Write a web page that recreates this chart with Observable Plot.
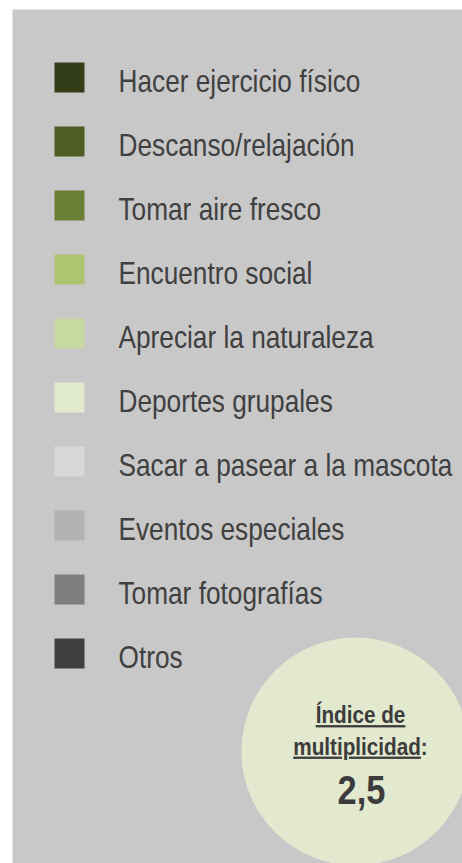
<!DOCTYPE html>
<html>
<head>
<meta charset="utf-8">
<script src="https://cdn.jsdelivr.net/npm/d3@7"></script>
<script src="https://cdn.jsdelivr.net/npm/@observablehq/plot@0.6"></script>
<style>
  html, body { margin: 0; padding: 0; background: #ffffff; overflow: hidden; }
</style>
</head>
<body>
<div id="chart"></div>
<script>
// Legend categories (in order) and their colours
const categories = [
  "Hacer ejercicio físico",
  "Descanso/relajación",
  "Tomar aire fresco",
  "Encuentro social",
  "Apreciar la naturaleza",
  "Deportes grupales",
  "Sacar a pasear a la mascota",
  "Eventos especiales",
  "Tomar fotografías",
  "Otros"
];
const colors = [
  "#333d17", "#4e5e23", "#6a7f32", "#afc46f", "#c8d8a1",
  "#e1eacf", "#d8d8d8", "#b2b2b2", "#7e7e7e", "#3f3f3f"
];
// Index callout
const indexTitle = ["Índice de"];
const indexSubtitle = ["multiplicidad:"];
const indexValue = ["2,5"];

const baseFont = "'Liberation Sans', Arial, sans-serif";

const chart = Plot.plot({
  width: 462,
  height: 863,
  marginLeft: 12,
  marginTop: 9,
  marginRight: 0,
  marginBottom: 0,
  y: { type: "point", domain: categories, range: [74, 656], padding: 0, axis: null },
  color: { domain: categories, range: colors },
  style: { fontFamily: baseFont, background: "transparent" },
  marks: [
    Plot.frame({ fill: "#c8c8c8", stroke: "none" }),
    Plot.dot(categories, {
      y: d => d, fill: d => d, symbol: "square",
      r: 30 / Math.sqrt(Math.PI), frameAnchor: "left", dx: 57
    }),
    Plot.text(categories, {
      y: d => d, text: d => d, frameAnchor: "left", textAnchor: "start",
      lineAnchor: "bottom", dx: 106, dy: 14, fontSize: 30.5, fill: "#404040"
    }),
    Plot.dot(indexValue, {
      frameAnchor: "bottom-right", dx: -107, dy: -112, r: 114, fill: "#e3e9cf"
    }),
    Plot.text(indexTitle, {
      text: d => d, frameAnchor: "bottom-right", textAnchor: "middle", lineAnchor: "bottom",
      dx: -102, dy: -140.5, fontSize: 23, fontWeight: "bold", fill: "#3c3c3c"
    }),
    Plot.text(indexSubtitle, {
      text: d => d, frameAnchor: "bottom-right", textAnchor: "middle", lineAnchor: "bottom",
      dx: -102, dy: -109, fontSize: 23, fontWeight: "bold", fill: "#3c3c3c"
    }),
    Plot.text(indexValue, {
      text: d => d, frameAnchor: "bottom-right", textAnchor: "middle", lineAnchor: "bottom",
      dx: -101, dy: -60, fontSize: 41, fontWeight: "bold", fill: "#3c3c3c"
    })
  ]
});

// Narrow (condensed) look: horizontal compression of each label about its anchor
const ns = "http://www.w3.org/2000/svg";
d3.select(chart).selectAll("text").each(function () {
  const t = this.textContent;
  let s = 0.86;
  if (t === indexTitle[0] || t === indexSubtitle[0]) s = 0.9;
  if (t === indexValue[0]) s = 0.84;
  const tr = this.getAttribute("transform") || "";
  this.setAttribute("transform", `${tr} scale(${s},1)`);
  if (t === indexTitle[0]) {
    this.style.textDecoration = "underline";
  } else if (t === indexSubtitle[0]) {
    const word = t.replace(/:$/, "");
    this.textContent = "";
    const a = document.createElementNS(ns, "tspan");
    a.textContent = word;
    a.style.textDecoration = "underline";
    const b = document.createElementNS(ns, "tspan");
    b.textContent = ":";
    this.appendChild(a);
    this.appendChild(b);
  }
});

document.getElementById("chart").appendChild(chart);
</script>
</body>
</html>
